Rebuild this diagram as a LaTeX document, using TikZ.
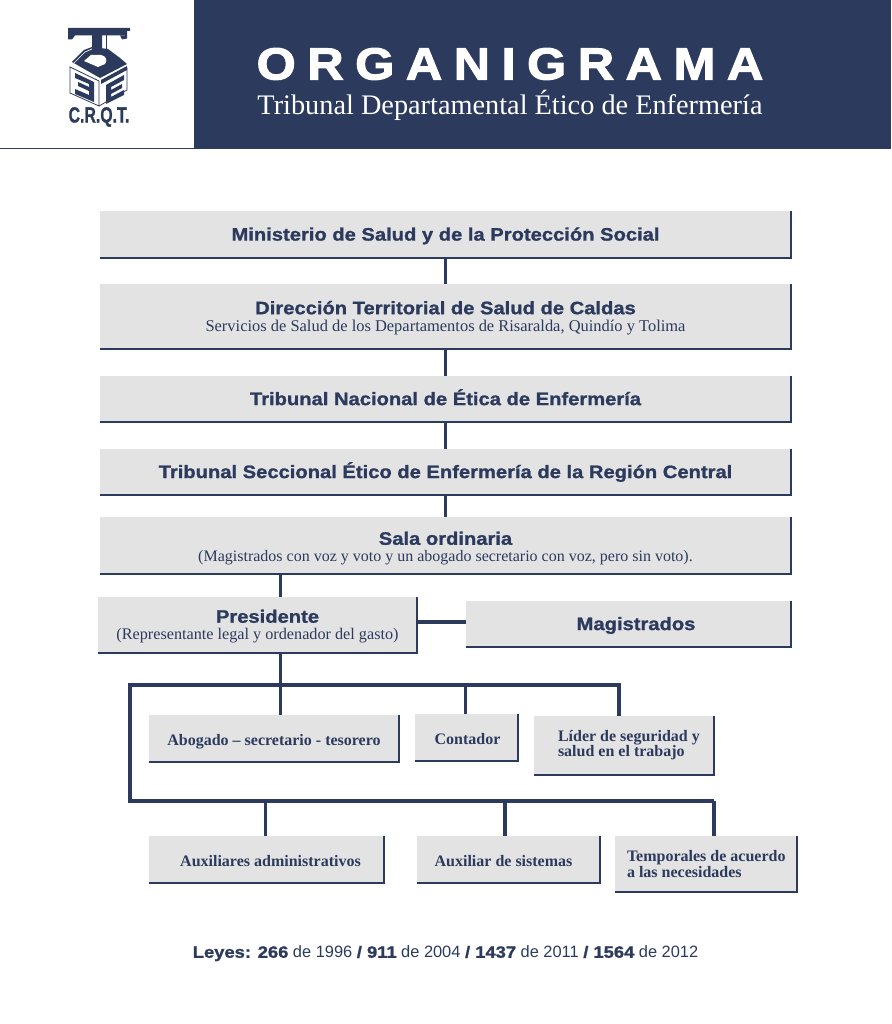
\documentclass[tikz,border=0pt]{standalone}
\usepackage{fontspec}
\setmainfont{Liberation Serif}
\setsansfont{Liberation Sans}
\usetikzlibrary{calc}
\definecolor{navy}{HTML}{2C3A5D}
\definecolor{boxgray}{HTML}{E3E3E4}
\newfontfamily\headfont[FakeStretch=1.12,FakeBold=1.2]{Liberation Sans Bold}
\newfontfamily\titlefont[FakeStretch=1.12,FakeBold=2.4,LetterSpace=25.5]{Liberation Sans Bold}
\newfontfamily\logofont[FakeBold=1.2]{Liberation Sans Bold}
\newcommand{\heads}[1]{{\headfont\fontsize{18}{18}\selectfont\vphantom{Éjp}#1}}
\newcommand{\subs}[2][16.2]{{\rmfamily\fontsize{#1}{16.2}\selectfont #2}}
\newcommand{\smalls}[1]{{\rmfamily\bfseries\fontsize{16}{16}\selectfont #1}}
\newcommand{\oneline}[1]{\smalls{\rule[-4pt]{0pt}{21pt}#1}}
\newcommand{\orgbox}[6][center]{%
  \node[boxnode,align=#1,minimum width={#4-#3},minimum height={#6-#5}] (#2) at ({(#3+#4)/2},{(#5+#6)/2}) {\BoxText};
  \draw[boxedge] (#2.south west) -- (#2.south east) -- (#2.north east);
}
\tikzset{
  boxnode/.style={fill=boxgray,inner sep=0pt,outer sep=0pt,text=navy,font=\fontsize{17}{17}\selectfont},
  boxedge/.style={draw=navy,line width=1.9pt,line cap=butt},
  link/.style={draw=navy,line width=3.1pt},
  logoink/.style={fill=navy,draw=none},
  logopaper/.style={fill=white,draw=none}
}
\begin{document}
\begin{tikzpicture}[x=1pt,y=-1pt]
\useasboundingbox (0,0) rectangle (891,1024);
% header
\fill[navy] (194,0) rectangle (891,149);
\draw[navy,line width=1.2pt] (0,148.5) -- (194,148.5);
\node[text=white,inner sep=0pt] (title) at (510,64) {\titlefont\fontsize{45}{45}\selectfont ORGANIGRAMA};
\node[text=white,inner sep=0pt] (subtitle) at (510,105) {\rmfamily\fontsize{28.3}{28.3}\selectfont Tribunal Departamental Ético de Enfermería};
% logo
\fill[logoink] (68,28) -- (125,28) -- (125,35.5) -- (102,35.5) -- (102,48) -- (92,48) -- (92,35.5) -- (75,35.5) -- (72,39.5) -- (68,39.5) -- cycle;
\fill[logoink] (125,28) -- (130,28) -- (130,31) -- (127,31) -- (127,38.5) -- (122,39.5) -- (120,35.5) -- (125,35.5) -- cycle;
\draw[navy,line width=.6pt] (106,35.5) -- (106,50);
\fill[logoink] (72,62) -- (84,50) -- (92,47) -- (108,49) -- (120,58) -- (127,64) -- (100,78) -- cycle;
\fill[logopaper] (84,61) -- (91,55) -- (101,55) .. controls (106,56) and (108,60) .. (105,64) -- (98,67) -- cycle;
\draw[white,line width=.7pt] (74,63) -- (85,52) -- (92,49);
\draw[navy,line width=.8pt] (70,67) -- (99,81) -- (99,106) -- (70,93) -- cycle;
\draw[navy,line width=.8pt] (99,106) -- (127,90) -- (127,68);
\fill[logoink] (75,73) -- (94,82) -- (94,102) -- (75,94) -- (75,89) -- (89,95) -- (89,91) -- (78,86) -- (78,82) -- (89,87) -- (89,84) -- (75,78) -- cycle;
\fill[logoink] (101,80) -- (127,66) -- (127,70) -- (101,84) -- cycle;
\fill[logoink] (106,85) -- (124,75) -- (124,80) -- (111,87) -- (111,90) -- (122,84) -- (122,88) -- (111,94) -- (111,97) -- (124,90) -- (124,95) -- (106,104) -- cycle;
\node[text=navy,inner sep=0pt] (crqt) at (99,117) {\logofont\fontsize{22}{22}\selectfont\scalebox{.72}[1]{C.R.Q.T.}};
% boxes
\def\BoxText{\heads{Ministerio de Salud y de la Protección Social}}
\orgbox{b1}{100}{791}{211}{258}
\def\BoxText{\heads{Dirección Territorial de Salud de Caldas}\\\subs[16.45]{Servicios de Salud de los Departamentos de Risaralda, Quindío y Tolima}}
\orgbox{b2}{100}{791}{284}{349}
\def\BoxText{\heads{Tribunal Nacional de Ética de Enfermería}}
\orgbox{b3}{100}{791}{376}{422}
\def\BoxText{\heads{Tribunal Seccional Ético de Enfermería de la Región Central}}
\orgbox{b4}{100}{791}{449}{495}
\def\BoxText{\heads{\rule{0pt}{19pt}Sala ordinaria}\\\subs[16]{(Magistrados con voz y voto y un abogado secretario con voz, pero sin voto).}}
\orgbox{b5}{100}{791}{517}{574}
\def\BoxText{\heads{\hspace*{20pt}Presidente}\\\subs{(Representante legal y ordenador del gasto)}}
\orgbox{pres}{98}{417}{597}{653}
\def\BoxText{\heads{\hspace*{15pt}Magistrados}}
\orgbox{mag}{466}{791}{601}{647}
\def\BoxText{\oneline{Abogado – secretario - tesorero}}
\orgbox{abo}{149}{399}{715}{762}
\def\BoxText{\oneline{\hspace*{2pt}Contador}}
\orgbox{con}{415}{518}{714}{761}
\def\BoxText{\smalls{\makebox[132pt][l]{Líder de seguridad y}}\\[-2pt]\smalls{\makebox[132pt][l]{salud en el trabajo}}}
\orgbox{lid}{534}{714}{716}{775}
\def\BoxText{\oneline{\hspace*{8pt}Auxiliares administrativos}}
\orgbox{adm}{149}{384}{836}{883}
\def\BoxText{\oneline{Auxiliar de sistemas\hspace*{10pt}}}
\orgbox{sis}{417}{600}{836}{883}
\def\BoxText{\smalls{\makebox[158pt][l]{Temporales de acuerdo}}\\[-1pt]\smalls{\makebox[158pt][l]{a las necesidades}}}
\orgbox{tem}{615}{797}{836}{892}
% connector guides
\coordinate (xmain) at (445.5,0);
\coordinate (xpres) at (280.5,0);
\coordinate (xcon) at (465.5,0);
\coordinate (xlid) at (619,0);
\coordinate (xadm) at (265.5,0);
\coordinate (xsis) at (505,0);
\coordinate (xtem) at (714,0);
\coordinate (ymag) at (0,622);
\coordinate (busleft) at (130,685);
\coordinate (buslow) at (130,801);
\draw[link] (b1.south -| xmain) -- (b2.north -| xmain);
\draw[link] (b2.south -| xmain) -- (b3.north -| xmain);
\draw[link] (b3.south -| xmain) -- (b4.north -| xmain);
\draw[link] (b4.south -| xmain) -- (b5.north -| xmain);
\draw[link] (b5.south -| xpres) -- (pres.north -| xpres);
\draw[link] (pres.east |- ymag) -- (mag.west |- ymag);
\draw[link] (pres.south -| xpres) -- (abo.north -| xpres);
\draw[link,line join=miter] (buslow -| xtem) -- (buslow) -- (busleft) -- (busleft -| xlid) -- (lid.north -| xlid);
\draw[link] (busleft -| xcon) -- (con.north -| xcon);
\draw[link] (buslow -| xadm) -- (adm.north -| xadm);
\draw[link] (buslow -| xsis) -- (sis.north -| xsis);
\draw[link] (buslow -| xtem) -- (tem.north -| xtem);
% footer
\node[text=navy,inner sep=0pt] (laws) at (445.5,953.5) {\sffamily\fontsize{16.4}{16.4}\selectfont {\headfont Leyes: 266} de 1996 {\headfont / 911} de 2004 {\headfont / 1437} de 2011 {\headfont / 1564} de 2012};
\end{tikzpicture}
\end{document}
